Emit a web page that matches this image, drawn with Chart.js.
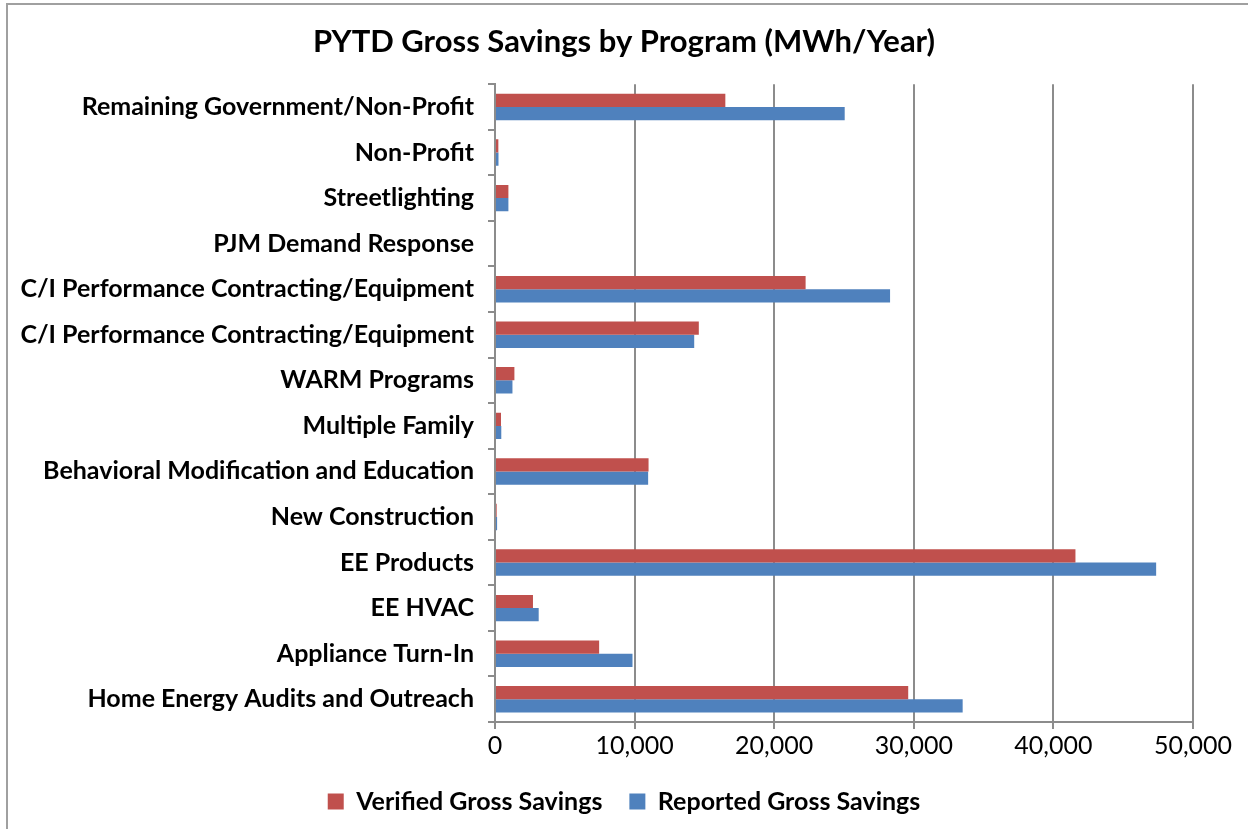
<!DOCTYPE html>
<html>
<head>
<meta charset="utf-8">
<script src="https://cdn.jsdelivr.net/npm/chart.js@4.4.1/dist/chart.umd.min.js"></script>
<style>
  html, body { margin: 0; padding: 0; background: #fff; }
  #wrap { position: relative; width: 1248px; height: 829px; }
</style>
</head>
<body>
<div id="wrap"><canvas id="chart" width="1248" height="829"></canvas></div>
<script>
// Programs, top to bottom as shown in the chart
const programs = [
  'Remaining Government/Non-Profit',
  'Non-Profit',
  'Streetlighting',
  'PJM Demand Response',
  'C/I Performance Contracting/Equipment',
  'C/I Performance Contracting/Equipment',
  'WARM Programs',
  'Multiple Family',
  'Behavioral Modification and Education',
  'New Construction',
  'EE Products',
  'EE HVAC',
  'Appliance Turn-In',
  'Home Energy Audits and Outreach'
];

// MWh/Year
const verifiedSavings = [16500, 240, 960, 0, 22250, 14600, 1390, 430, 11000, 120, 41580, 2720, 7460, 29600];
const reportedSavings = [25050, 250, 960, 0, 28300, 14270, 1250, 450, 10970, 150, 47360, 3130, 9850, 33500];

const xTicks = [0, 10000, 20000, 30000, 40000, 50000];

const FONT = 'Lato, "Open Sans", sans-serif';

// light frame around the chart like the original export
const framePlugin = {
  id: 'frame',
  afterDraw(chart) {
    const c = chart.ctx;
    c.save();
    c.strokeStyle = '#a0a0a0';
    c.lineWidth = 2;
    c.beginPath();
    c.moveTo(7, chart.height);
    c.lineTo(7, 4);
    c.lineTo(chart.width, 4);
    c.stroke();
    c.restore();
  }
};

new Chart(document.getElementById('chart'), {
  type: 'bar',
  data: {
    labels: programs,
    datasets: [
      {
        label: 'Verified Gross Savings',
        data: verifiedSavings,
        backgroundColor: '#C0504D',
        borderWidth: 0,
        barPercentage: 1.0,
        categoryPercentage: 0.58
      },
      {
        label: 'Reported Gross Savings',
        data: reportedSavings,
        backgroundColor: '#4F81BD',
        borderWidth: 0,
        barPercentage: 1.0,
        categoryPercentage: 0.58
      }
    ]
  },
  options: {
    indexAxis: 'y',
    responsive: false,
    animation: false,
    layout: { padding: { top: 4, right: 0, bottom: 5, left: 0 } },
    plugins: {
      title: {
        display: true,
        text: 'PYTD Gross Savings by Program (MWh/Year)',
        color: '#000',
        font: { family: FONT, size: 31, weight: 'bold' },
        padding: { top: 19, bottom: 24 }
      },
      legend: {
        position: 'bottom',
        labels: {
          color: '#000',
          font: { family: FONT, size: 25, weight: 'bold' },
          boxWidth: 16,
          boxHeight: 16,
          padding: 27
        }
      },
      tooltip: { enabled: false }
    },
    scales: {
      x: {
        min: 0,
        max: 50000,
        afterBuildTicks: axis => { axis.ticks = xTicks.map(v => ({ value: v })); },
        ticks: {
          color: '#000',
          font: { family: FONT, size: 25 },
          padding: 2,
          callback: v => v.toLocaleString('en-US')
        },
        grid: { color: '#8c8c8c', lineWidth: 2, tickLength: 7 },
        border: { color: '#8c8c8c', width: 2 },
        afterFit: axis => {
          axis.height = 40;
          axis.paddingRight = 55;
          axis.paddingLeft = 0;
        }
      },
      y: {
        ticks: {
          color: '#000',
          font: { family: FONT, size: 25, weight: 'bold' },
          padding: 14
        },
        grid: { drawOnChartArea: false, color: '#8c8c8c', lineWidth: 2, tickLength: 7 },
        border: { color: '#8c8c8c', width: 2 },
        afterFit: axis => { axis.width = 495; }
      }
    }
  },
  plugins: [framePlugin]
});
</script>
</body>
</html>
